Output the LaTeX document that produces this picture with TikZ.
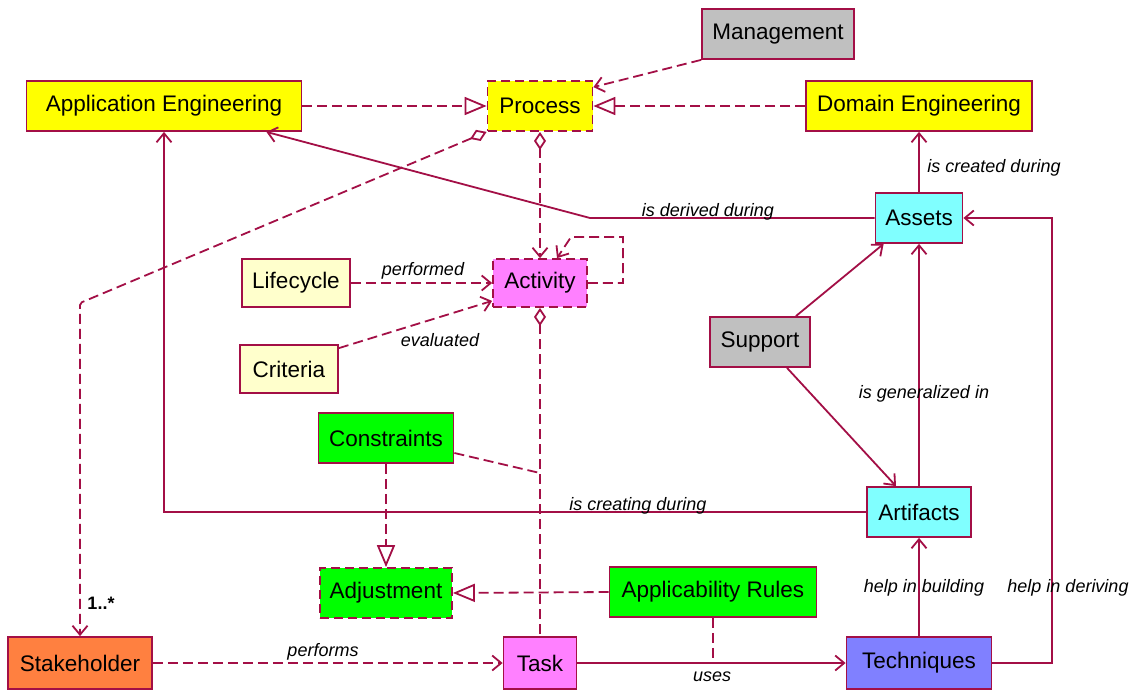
\documentclass[tikz,border=0pt]{standalone}
\usepackage{fontspec}
\setmainfont{Liberation Sans}
\usetikzlibrary{arrows.meta}
\definecolor{ln}{RGB}{163,15,70}
\definecolor{cYel}{RGB}{255,255,0}
\definecolor{cCyan}{RGB}{128,255,255}
\definecolor{cPink}{RGB}{255,128,255}
\definecolor{cGreen}{RGB}{0,255,0}
\definecolor{cGray}{RGB}{192,192,192}
\definecolor{cLight}{RGB}{255,255,204}
\definecolor{cOrange}{RGB}{255,128,64}
\definecolor{cBlue}{RGB}{128,128,255}
\tikzset{
  ob/.tip={Straight Barb[length=9pt,width=15pt]},
  tri/.tip={Triangle[open,length=22pt,width=18pt]},
  dia/.tip={Diamond[open,length=18pt,width=12pt]},
  bx/.style={draw=ln, line width=1.8pt, inner sep=0pt, text=black,
    font=\fontsize{22.5}{26}\selectfont, minimum height=50pt},
  dbx/.style={bx, dash pattern=on 9pt off 5pt},
  lbl/.style={font=\fontsize{18}{21}\selectfont\itshape, inner sep=0pt, text=black},
  con/.style={draw=ln, line width=1.8pt},
  dcon/.style={con, dash pattern=on 10pt off 5pt},
}
\begin{document}
\begin{tikzpicture}[x=1pt,y=-1pt]
\useasboundingbox[fill=white] (0,0) rectangle (1131,691);
% nodes
\node[bx, fill=cGray, minimum width=152pt] (mgmt) at (778,34) {Management};
\node[bx, fill=cYel, minimum width=275pt] (appeng) at (164,106) {Application Engineering};
\node[dbx, fill=cYel, minimum width=105pt] (process) at (540,106) {Process};
\node[bx, fill=cYel, minimum width=226pt] (domain) at (919,106) {Domain Engineering};
\node[bx, fill=cCyan, minimum width=87pt] (assets) at (919,218) {Assets};
\node[bx, fill=cLight, minimum width=108pt, minimum height=48pt] (lifecycle) at (296,283) {Lifecycle};
\node[dbx, fill=cPink, minimum width=94pt, minimum height=48pt] (activity) at (540,283) {Activity};
\node[bx, fill=cLight, minimum width=98pt, minimum height=48pt] (criteria) at (289,369) {Criteria};
\node[bx, fill=cGray, minimum width=100pt] (support) at (760,342) {Support};
\node[bx, fill=cGreen, minimum width=135pt] (constraints) at (386,438) {Constraints};
\node[bx, fill=cCyan, minimum width=104pt] (artifacts) at (919,512) {Artifacts};
\node[dbx, fill=cGreen, minimum width=132pt] (adjust) at (386,593) {Adjustment};
\node[bx, fill=cGreen, minimum width=207pt] (applic) at (713,592) {Applicability Rules};
\node[bx, fill=cOrange, minimum width=144pt, minimum height=52pt] (stake) at (80,663) {Stakeholder};
\node[bx, fill=cPink, minimum width=73pt, minimum height=52pt] (task) at (540,663) {Task};
\node[bx, fill=cBlue, minimum width=145pt, minimum height=52pt] (tech) at (919,663) {Techniques};
% coordinates
\coordinate (skc) at (80,303);
\coordinate (loop1) at (623,237);
\coordinate (loop2) at (571,237);
\coordinate (cl) at (540,473);
\coordinate (rt) at (1052,440);
\coordinate (adb) at (590,218);
% connectors
\draw[dcon, -{ob}] (mgmt.south west) -- ([yshift=-7pt]process.north east);
\draw[dcon, -{tri}] (appeng.east) -- (process.west);
\draw[dcon, -{tri}] (domain.west) -- (process.east);
\draw[dcon, {dia}-{ob}] (process.south) -- (activity.north);
\draw[dcon, {dia}-{ob}, rounded corners=2pt] (process.south west) -- (skc) -- (stake.north);
\draw[dcon, -{ob}] (activity.east) -| (loop1) -- (loop2) -- ([xshift=17pt]activity.north);
\draw[dcon, -{ob}] (lifecycle.east) -- (activity.west);
\draw[dcon, -{ob}] ([yshift=-4pt]criteria.north east) -- ([yshift=7pt]activity.south west);
\draw[dcon, {dia}-] (activity.south) -- (task.north);
\draw[dcon] ([yshift=-15pt]constraints.east) -- (cl);
\draw[dcon, -{tri}] (constraints.south) -- (adjust.north);
\draw[dcon, -{tri}] (applic.west) -- (adjust.east);
\draw[dcon] (applic.south) -- (applic.south |- task.east);
\draw[dcon, -{ob}] (stake.east) -- (task.west);
\draw[con, -{ob}] (task.east) -- (tech.west);
\draw[con, -{ob}] (tech.north) -- (artifacts.south);
\draw[con, -{ob}] (tech.east) -| (rt) |- (assets.east);
\draw[con, -{ob}] (artifacts.north) -- (assets.south);
\draw[con, -{ob}] ([xshift=-15pt]support.north east) -- ([xshift=9pt]assets.south west);
\draw[con, -{ob}] ([xshift=27pt]support.south) -- ([xshift=-23pt]artifacts.north);
\draw[con, -{ob}] (assets.north) -- (domain.south);
\draw[con, -{ob}] (assets.west) -- (adb) -- ([xshift=-36pt]appeng.south east);
\draw[con, -{ob}] (artifacts.west) -| (appeng.south);
% labels
\node[lbl] (l1) at (994,168) {is created during};
\node[lbl] (l2) at (708,212) {is derived during};
\node[lbl] (l3) at (924,394) {is generalized in};
\node[lbl] (l4) at (638,506) {is creating during};
\node[lbl] (l5) at (924,588) {help in building};
\node[lbl] (l6) at (1068,588) {help in deriving};
\node[lbl] (l7) at (712,677) {uses};
\node[lbl] (l8) at (323,652) {performs};
\node[lbl] (l9) at (423,271) {performed};
\node[lbl] (l10) at (440,340) {evaluated};
\node[font=\fontsize{18}{21}\selectfont\bfseries, inner sep=0pt] (mult) at (101,603) {1..*};
\end{tikzpicture}
\end{document}
